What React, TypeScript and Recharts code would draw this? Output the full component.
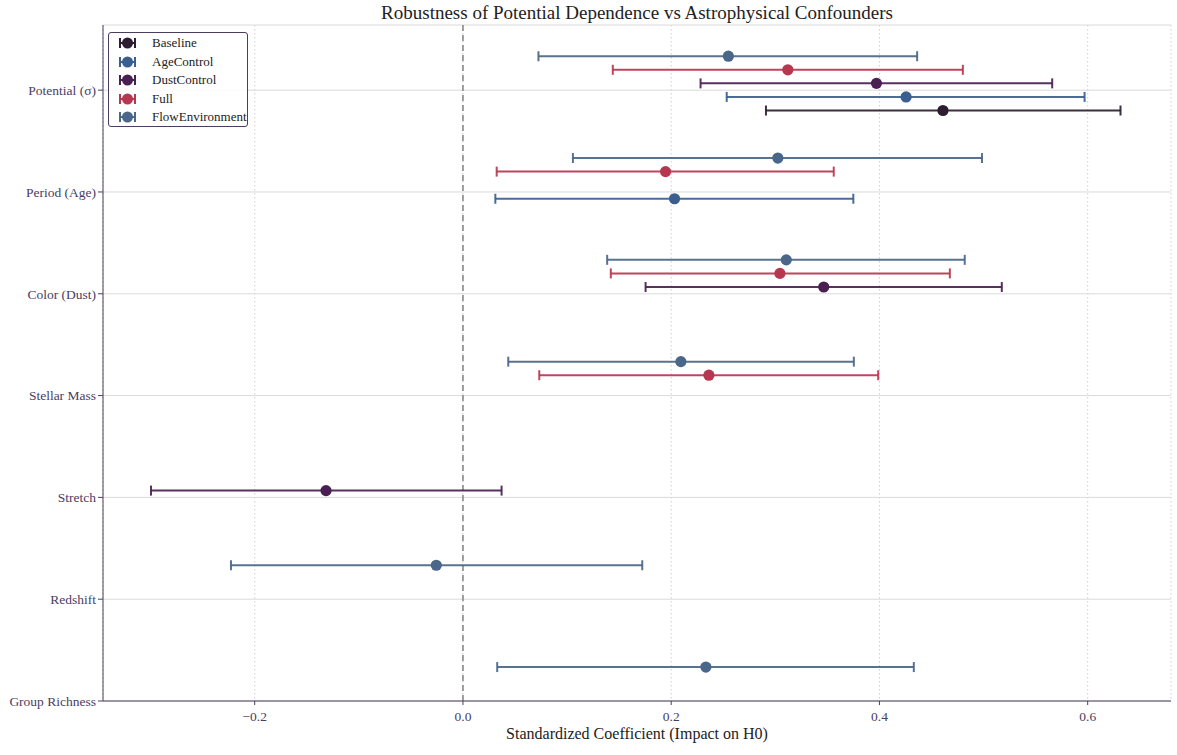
import React from 'react';
import {
  ScatterChart,
  Scatter,
  XAxis,
  YAxis,
  CartesianGrid,
  ErrorBar,
  ReferenceLine,
  Legend,
} from 'recharts';

// ---------- data ----------
const CATEGORIES = [
  'Potential (σ)',
  'Period (Age)',
  'Color (Dust)',
  'Stellar Mass',
  'Stretch',
  'Redshift',
  'Group Richness',
];
const MODELS = ['Baseline', 'AgeControl', 'DustControl', 'Full', 'FlowEnvironment'];
const X_TICKS = [-0.2, 0, 0.2, 0.4, 0.6];
const Y_TICKS = [0, 1, 2, 3, 4, 5, 6];

const BASELINE_VARS = ['Potential (σ)'];
const BASELINE_COEF = [0.461];
const BASELINE_LO = [0.291];
const BASELINE_HI = [0.6315];

const AGE_VARS = ['Potential (σ)', 'Period (Age)'];
const AGE_COEF = [0.4256, 0.2032];
const AGE_LO = [0.2533, 0.0311];
const AGE_HI = [0.597, 0.3749];

const DUST_VARS = ['Potential (σ)', 'Color (Dust)', 'Stretch'];
const DUST_COEF = [0.3971, 0.3465, -0.1315];
const DUST_LO = [0.2282, 0.1754, -0.2996];
const DUST_HI = [0.5659, 0.5175, 0.0371];

const FULL_VARS = ['Potential (σ)', 'Period (Age)', 'Color (Dust)', 'Stellar Mass'];
const FULL_COEF = [0.312, 0.1946, 0.3044, 0.2362];
const FULL_LO = [0.1439, 0.0324, 0.142, 0.0733];
const FULL_HI = [0.4801, 0.3561, 0.4676, 0.3988];

const FLOW_VARS = ['Potential (σ)', 'Period (Age)', 'Color (Dust)', 'Stellar Mass', 'Redshift', 'Group Richness'];
const FLOW_COEF = [0.2549, 0.3024, 0.3105, 0.2093, -0.0256, 0.2333];
const FLOW_LO = [0.0725, 0.1056, 0.1385, 0.0435, -0.2228, 0.0329];
const FLOW_HI = [0.4362, 0.4985, 0.4819, 0.3754, 0.1722, 0.433];

// ---------- styling ----------
const COLORS: Record<string, string> = {
  Baseline: '#2c1d30',
  AgeControl: '#3a5f8f',
  DustControl: '#4a2053',
  Full: '#b6374f',
  FlowEnvironment: '#4a6689',
};
// vertical dodge within each category (axis reversed: positive = lower)
const OFFSETS: Record<string, number> = {
  Baseline: 0.2,
  AgeControl: 0.0667,
  DustControl: -0.0667,
  Full: -0.2,
  FlowEnvironment: -0.3333,
};

const AXIS_COLOR = '#4b3d5f';
const FONT = '"Liberation Serif", "DejaVu Serif", "Times New Roman", serif';
const X_DOMAIN: [number, number] = [-0.3457, 0.68];
const Y_DOMAIN: [number, number] = [-0.64, 6];

function build(model: string, vars: string[], coef: number[], lo: number[], hi: number[]) {
  return vars.map((v, i) => ({
    name: v,
    y: CATEGORIES.indexOf(v) + OFFSETS[model],
    coef: coef[i],
    err: [coef[i] - lo[i], hi[i] - coef[i]],
  }));
}

const SERIES = [
  { model: 'Baseline', data: build('Baseline', BASELINE_VARS, BASELINE_COEF, BASELINE_LO, BASELINE_HI) },
  { model: 'AgeControl', data: build('AgeControl', AGE_VARS, AGE_COEF, AGE_LO, AGE_HI) },
  { model: 'DustControl', data: build('DustControl', DUST_VARS, DUST_COEF, DUST_LO, DUST_HI) },
  { model: 'Full', data: build('Full', FULL_VARS, FULL_COEF, FULL_LO, FULL_HI) },
  { model: 'FlowEnvironment', data: build('FlowEnvironment', FLOW_VARS, FLOW_COEF, FLOW_LO, FLOW_HI) },
];

const fmtX = (v: number) => {
  const s = Math.abs(v).toFixed(1);
  return v < -1e-9 ? '\u2212' + s : s;
};
const fmtY = (v: number) => CATEGORIES[Math.round(v)] ?? '';

const LegendBox = () => (
  <div
    style={{
      border: `1px solid ${AXIS_COLOR}`,
      borderRadius: 3,
      background: 'rgba(255,255,255,0.85)',
      width: 140,
      height: 95,
      boxSizing: 'border-box',
      paddingTop: 1,
      fontFamily: FONT,
    }}
  >
    {MODELS.map((m) => (
      <div key={m} style={{ height: 18.5, display: 'flex', alignItems: 'center' }}>
        <svg width={30} height={14} style={{ marginLeft: 3, display: 'block' }}>
          <line x1={8} y1={7} x2={23} y2={7} stroke={COLORS[m]} strokeWidth={2} />
          <line x1={8} y1={2} x2={8} y2={12} stroke={COLORS[m]} strokeWidth={2} />
          <line x1={23} y1={2} x2={23} y2={12} stroke={COLORS[m]} strokeWidth={2} />
          <circle cx={15.5} cy={7} r={5.5} fill={COLORS[m]} />
        </svg>
        <span style={{ marginLeft: 10, fontSize: 13, color: '#222' }}>{m}</span>
      </div>
    ))}
  </div>
);

export default function App() {
  return (
    <div style={{ position: 'absolute', left: 0, top: 0, width: 1177, height: 755, fontFamily: FONT, background: '#fff' }}>
      <div
        style={{
          position: 'absolute',
          left: 103,
          width: 1068,
          top: 2,
          textAlign: 'center',
          fontSize: 19,
          lineHeight: '22px',
          color: '#222',
          fontFamily: FONT,
        }}
      >
        Robustness of Potential Dependence vs Astrophysical Confounders
      </div>
      <ScatterChart width={1177} height={755} margin={{ top: 25, right: 6, bottom: 0, left: 0 }}>
        <CartesianGrid horizontal={false} stroke="#cfcfcf" strokeDasharray="1.5 2.5" />
        <CartesianGrid vertical={false} stroke="#dadada" />
        <XAxis
          type="number"
          dataKey="coef"
          domain={X_DOMAIN}
          ticks={X_TICKS}
          tickFormatter={fmtX}
          allowDataOverflow
          height={54}
          stroke={AXIS_COLOR}
          tickLine={{ stroke: AXIS_COLOR }}
          tickSize={4}
          tickMargin={6}
          tick={{ fill: '#4b3d5f', fontSize: 13.5, fontFamily: FONT }}
          label={{
            value: 'Standardized Coefficient (Impact on H0)',
            position: 'insideBottom',
            offset: 16,
            fontSize: 16,
            fill: '#222',
            fontFamily: FONT,
          }}
        />
        <XAxis
          xAxisId="top"
          orientation="top"
          type="number"
          domain={X_DOMAIN}
          height={0}
          tick={false}
          tickLine={false}
          stroke={AXIS_COLOR}
        />
        <YAxis
          type="number"
          dataKey="y"
          reversed
          domain={Y_DOMAIN}
          ticks={Y_TICKS}
          tickFormatter={fmtY}
          allowDataOverflow
          width={103}
          stroke={AXIS_COLOR}
          tickLine={{ stroke: AXIS_COLOR }}
          tickSize={5}
          tick={{ fill: '#4b3d5f', fontSize: 13.5, fontFamily: FONT }}
        />
        <YAxis
          yAxisId="right"
          orientation="right"
          type="number"
          domain={Y_DOMAIN}
          width={0}
          tick={false}
          tickLine={false}
          stroke={AXIS_COLOR}
        />
        <ReferenceLine x={0} stroke="#888" strokeWidth={1.6} strokeDasharray="6 4" />
        {SERIES.map((s) => (
          <Scatter
            key={s.model}
            name={s.model}
            data={s.data}
            fill={COLORS[s.model]}
            isAnimationActive={false}
            shape={(p: any) => <circle cx={p.cx} cy={p.cy} r={5.6} fill={COLORS[s.model]} />}
          >
            <ErrorBar
              dataKey="err"
              direction="x"
              width={5}
              stroke={COLORS[s.model]}
              strokeWidth={2}
              strokeOpacity={0.92}
              isAnimationActive={false}
            />
          </Scatter>
        ))}
        <Legend
          layout="horizontal"
          verticalAlign="middle"
          align="center"
          content={() => <LegendBox />}
          wrapperStyle={{ left: 108, top: 32, width: 140, height: 95 }}
        />
      </ScatterChart>
    </div>
  );
}
